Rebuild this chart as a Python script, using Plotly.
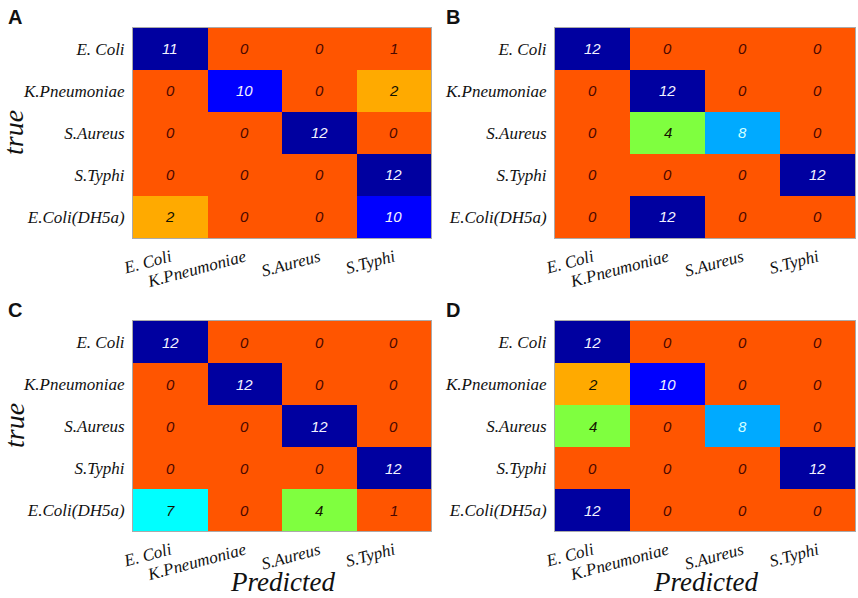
import plotly.graph_objects as go

# confusion matrices: rows = true class, columns = predicted class
true_labels = ["E. Coli", "K.Pneumoniae", "S.Aureus", "S.Typhi", "E.Coli(DH5a)"]
pred_labels = ["E. Coli", "K.Pneumoniae", "S.Aureus", "S.Typhi"]

cm_a = [[11, 0, 0, 1],
        [0, 10, 0, 2],
        [0, 0, 12, 0],
        [0, 0, 0, 12],
        [2, 0, 0, 10]]
cm_b = [[12, 0, 0, 0],
        [0, 12, 0, 0],
        [0, 4, 8, 0],
        [0, 0, 0, 12],
        [0, 12, 0, 0]]
cm_c = [[12, 0, 0, 0],
        [0, 12, 0, 0],
        [0, 0, 12, 0],
        [0, 0, 0, 12],
        [7, 0, 4, 1]]
cm_d = [[12, 0, 0, 0],
        [2, 10, 0, 0],
        [4, 0, 8, 0],
        [0, 0, 0, 12],
        [12, 0, 0, 0]]
panel_names = ["A", "B", "C", "D"]

W, H = 858, 598
ZMAX = 12.0

# stepped jet-like scale, as in the original figure
steps = [(0, "#FF5500"), (1.5, "#FFAA00"), (3, "#7FFF3F"), (5.5, "#00FFFF"),
         (7.5, "#00AAFF"), (9, "#0000FF"), (10.5, "#0000A0")]
colorscale = []
for n, (lo, col) in enumerate(steps):
    hi = steps[n + 1][0] if n + 1 < len(steps) else ZMAX
    colorscale += [[lo / ZMAX, col], [hi / ZMAX, col]]


def text_color(v):
    if v >= 10:
        return "#F2F2FF"
    if v == 8:
        return "#D0FFFF"
    if v <= 1:
        return "#4A0800"
    return "#141400"


# panel boxes in pixels: (left, right, top, bottom)
boxes = [(133, 431, 28, 238), (555, 855, 28, 238),
         (133, 431, 321, 531), (555, 855, 321, 531)]

serif = "Liberation Serif"
sans = "Liberation Sans"

fig = go.Figure()
annotations = []
for k, (cm, (x0, x1, y0, y1)) in enumerate(zip([cm_a, cm_b, cm_c, cm_d], boxes)):
    sfx = "" if k == 0 else str(k + 1)
    fig.add_trace(go.Heatmap(
        z=cm, x=pred_labels, y=true_labels, zmin=0, zmax=ZMAX,
        colorscale=colorscale, showscale=False, hoverinfo="skip",
        xaxis="x" + sfx, yaxis="y" + sfx))
    fig.update_layout(**{
        "xaxis" + sfx: dict(domain=[x0 / W, x1 / W], anchor="y" + sfx,
                            automargin=False, tickangle=-15, ticks="",
                            showline=True, linecolor="#aaaaaa", linewidth=1,
                            mirror=True, ticklabelstandoff=2,
                            tickfont=dict(family=serif, size=17, style="italic",
                                          color="#111111")),
        "yaxis" + sfx: dict(domain=[1 - y1 / H, 1 - y0 / H], anchor="x" + sfx,
                            automargin=False, autorange="reversed", ticks="",
                            showline=True, linecolor="#aaaaaa", linewidth=1,
                            mirror=True, ticklabelstandoff=4,
                            tickfont=dict(family=serif, size=17, style="italic",
                                          color="#111111")),
    })
    for i, row in enumerate(cm):
        for j, v in enumerate(row):
            annotations.append(dict(
                x=pred_labels[j], y=true_labels[i], xref="x" + sfx, yref="y" + sfx,
                text=str(v), showarrow=False,
                font=dict(family=sans, size=15, style="italic", color=text_color(v))))
    # panel letter
    annotations.append(dict(
        x=(6 if x0 < 300 else 444) / W, y=1 - (y0 - 24) / H, xref="paper", yref="paper",
        text="<b>%s</b>" % panel_names[k], showarrow=False, xanchor="left", yanchor="top",
        font=dict(family=sans, size=20, color="#111111")))
    if x0 < 300:
        annotations.append(dict(
            x=14 / W, y=1 - (y0 + y1) / 2 / H, xref="paper", yref="paper",
            text="true", textangle=-90, showarrow=False,
            xanchor="center", yanchor="middle",
            font=dict(family=serif, size=28, style="italic", color="#111111")))
    if y0 > 300:
        annotations.append(dict(
            x=(x0 + x1) / 2 / W, y=1 - 582 / H, xref="paper", yref="paper",
            text="Predicted", showarrow=False, xanchor="center", yanchor="middle",
            font=dict(family=serif, size=27, style="italic", color="#111111")))

fig.update_layout(width=W, height=H, margin=dict(l=0, r=0, t=0, b=0),
                  paper_bgcolor="white", plot_bgcolor="white",
                  annotations=annotations, showlegend=False)
# drop the page's default body margin so the figure fills the window
fig.write_html("out.html", config={"displayModeBar": False},
               post_script="document.body.style.margin='0';"
                           "document.body.style.overflow='hidden';")
